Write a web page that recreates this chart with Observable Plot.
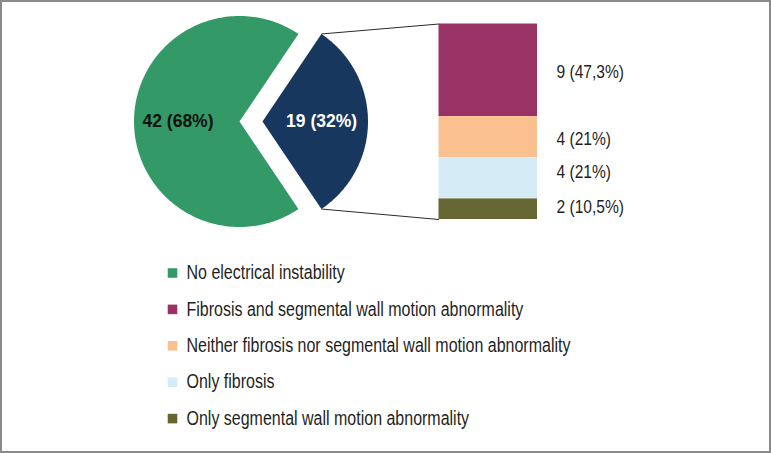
<!DOCTYPE html>
<html><head><meta charset="utf-8">
<script src="https://cdn.jsdelivr.net/npm/d3@7"></script>
<script src="https://cdn.jsdelivr.net/npm/@observablehq/plot@0.6"></script>
<style>
html,body{margin:0;padding:0;background:#fff;}
#wrap{position:relative;width:771px;height:453px;overflow:hidden;}
#wrap svg{display:block;}
#wrap::after{content:"";position:absolute;left:0;top:0;right:0;bottom:0;border:2px solid #8a8a8a;box-sizing:border-box;pointer-events:none;}
</style></head><body><div id="wrap"></div>
<script>
// ---- data ----
const pieCategories = ["No electrical instability", "Electrical instability"];
const pieCounts = [42, 19];
const piePercents = ["68%", "32%"];
const barCategories = [
  "Fibrosis and segmental wall motion abnormality",
  "Neither fibrosis nor segmental wall motion abnormality",
  "Only fibrosis",
  "Only segmental wall motion abnormality"
];
const barCounts = [9, 4, 4, 2];
const barPercents = ["47,3%", "21%", "21%", "10,5%"];
const legendCategories = ["No electrical instability", ...barCategories];

// ---- styles ----
const colorDomain = [...pieCategories, ...barCategories];
const colorRange = ["#339966", "#17375E", "#993366", "#FAC090", "#D5EBF5", "#666633"];
const narrowRatio = 0.82; // condensed look of the original font

// ---- layout ----
const W = 771, H = 453;
const cx = 239, cy = 121, R = 105.5, explode = 23;
const pieLabelR = [0.583, 0.56];
const barX1 = 438.5, barX2 = 537, barTop = 23.5, barBottom = 219;
const barLabelX = 556;
const barLabelNudge = [2, 2, -6, -2];
const legendX = 172, legendTextX = 186, legendTop = 272.5, legendStep = 36.4;

// ---- pie geometry ----
const total = d3.sum(pieCounts);
const half = Math.PI * pieCounts[1] / total;
const arcs = d3.pie().sort(null)
  .startAngle(Math.PI / 2 + half)
  .endAngle(Math.PI / 2 + half + 2 * Math.PI)(pieCounts);

const piePoints = [];
const pieLabels = [];
const apexes = [];
arcs.forEach((a, i) => {
  const mid = (a.startAngle + a.endAngle) / 2;
  const off = i === 1 ? explode : 0;
  const ox = cx + off * Math.sin(mid), oy = cy - off * Math.cos(mid);
  apexes.push({ox, oy});
  const key = pieCategories[i];
  piePoints.push({key, category: key, x: ox, y: oy});
  const N = 180;
  for (let k = 0; k <= N; ++k) {
    const t = a.startAngle + (a.endAngle - a.startAngle) * k / N;
    piePoints.push({key, category: key, x: ox + R * Math.sin(t), y: oy - R * Math.cos(t)});
  }
  pieLabels.push({
    text: `${pieCounts[i]} (${piePercents[i]})`,
    x: ox + R * pieLabelR[i] * Math.sin(mid),
    y: oy - R * pieLabelR[i] * Math.cos(mid)
  });
});
const navy = arcs[1];
const corner = (t) => ({x: apexes[1].ox + R * Math.sin(t), y: apexes[1].oy - R * Math.cos(t)});
const cTop = corner(navy.startAngle), cBot = corner(navy.endAngle);
const links = [
  {x1: cTop.x, y1: cTop.y, x2: barX1, y2: barTop},
  {x1: cBot.x, y1: cBot.y, x2: barX1, y2: barBottom}
];

// ---- bar geometry ----
const unit = (barBottom - barTop) / d3.sum(barCounts);
let cum = 0;
const barRows = barCategories.map((c, i) => {
  const r = {category: c, x1: barX1, x2: barX2, y1: barTop + cum * unit, y2: barTop + (cum + barCounts[i]) * unit,
    label: `${barCounts[i]} (${barPercents[i]})`};
  r.ly = (r.y1 + r.y2) / 2 + barLabelNudge[i];
  cum += barCounts[i];
  return r;
});

// ---- legend ----
const legendRows = legendCategories.map((c, i) => ({category: c, y: legendTop + i * legendStep}));

const chart = Plot.plot({
  width: W, height: H,
  margin: 0,
  style: {fontFamily: "'Liberation Sans', Arial, sans-serif", background: "#fff"},
  x: {domain: [0, W], range: [0, W], axis: null},
  y: {domain: [0, H], range: [0, H], axis: null},
  color: {domain: colorDomain, range: colorRange},
  marks: [
    Plot.line(piePoints, {x: "x", y: "y", z: "key", fill: "category", stroke: "none", curve: "linear-closed"}),
    Plot.link(links, {x1: "x1", y1: "y1", x2: "x2", y2: "y2", stroke: "#2a2a2a", strokeWidth: 1}),
    Plot.rect(barRows, {x1: "x1", x2: "x2", y1: "y1", y2: "y2", fill: "category"}),
    Plot.text([pieLabels[0]], {x: "x", y: "y", text: "text", fill: "#111", fontWeight: "bold", fontSize: 17.5}),
    Plot.text([pieLabels[1]], {x: "x", y: "y", text: "text", fill: "#fff", fontWeight: "bold", fontSize: 17.5}),
    Plot.text(barRows, {x: barLabelX, y: "ly", text: "label", textAnchor: "start", fill: "#1f1f1f", fontSize: 19}),
    Plot.dot(legendRows, {x: legendX, y: "y", symbol: "square", r: 5.4, fill: "category", stroke: "none"}),
    Plot.text(legendRows, {x: legendTextX, y: "y", text: "category", textAnchor: "start", fill: "#1f1f1f", fontSize: 19.5})
  ]
});
document.getElementById("wrap").appendChild(chart);
// condense the regular-weight 19px+ labels to mimic the original narrow face
chart.querySelectorAll("text").forEach(t => {
  const fs = parseFloat(getComputedStyle(t).fontSize);
  const fw = getComputedStyle(t).fontWeight;
  if (fs >= 18.5 && (fw === "400" || fw === "normal")) {
    const len = t.getComputedTextLength();
    t.setAttribute("textLength", (len * narrowRatio).toFixed(2));
    t.setAttribute("lengthAdjust", "spacingAndGlyphs");
  }
});
</script></body></html>
